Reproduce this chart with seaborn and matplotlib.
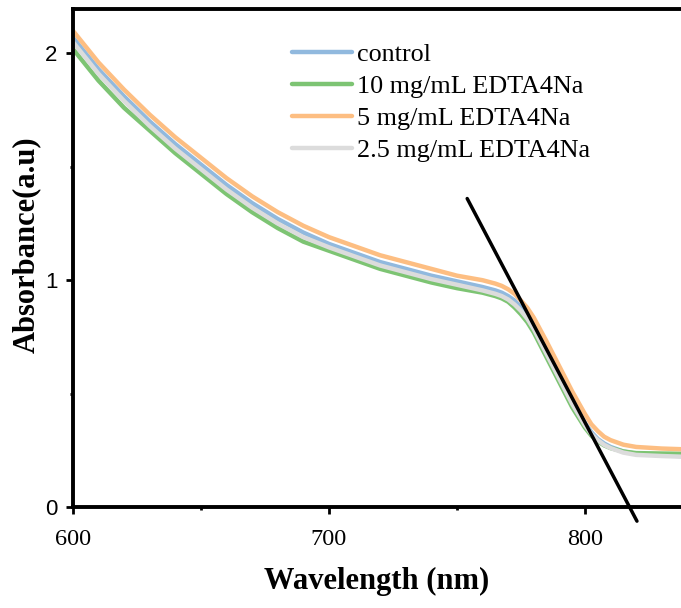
import numpy as np
import pandas as pd
import matplotlib
matplotlib.use("Agg")
import matplotlib.pyplot as plt
import seaborn as sns
from matplotlib.ticker import MultipleLocator
from matplotlib.lines import Line2D

# ---- data ----
wavelength = [600, 610, 620, 630, 640, 650, 660, 670, 680, 690, 700, 710, 720, 730, 740,
              750, 760, 765, 767.5, 770, 772.5, 775, 777.5, 780, 785, 790, 795, 800, 802.5,
              805, 807.5, 810, 815, 820, 830, 838]
control = [2.07, 1.93, 1.81, 1.70, 1.60, 1.51, 1.42, 1.34, 1.27, 1.21, 1.16, 1.12, 1.08, 1.05, 1.02,
           0.995, 0.97, 0.955, 0.945, 0.93, 0.91, 0.88, 0.845, 0.80, 0.69, 0.58, 0.47, 0.37, 0.33,
           0.30, 0.28, 0.265, 0.245, 0.235, 0.228, 0.225]
edta_10 = [2.02, 1.88, 1.76, 1.66, 1.56, 1.47, 1.38, 1.30, 1.23, 1.17, 1.13, 1.09, 1.05, 1.02, 0.99,
           0.965, 0.945, 0.93, 0.92, 0.905, 0.88, 0.85, 0.815, 0.77, 0.66, 0.55, 0.44, 0.35, 0.315,
           0.29, 0.272, 0.26, 0.245, 0.238, 0.236, 0.235]
edta_5 = [2.10, 1.96, 1.84, 1.73, 1.63, 1.54, 1.45, 1.37, 1.30, 1.24, 1.19, 1.15, 1.11, 1.08, 1.05,
          1.02, 1.00, 0.985, 0.975, 0.96, 0.94, 0.91, 0.878, 0.835, 0.73, 0.62, 0.51, 0.41, 0.365,
          0.335, 0.31, 0.295, 0.275, 0.265, 0.258, 0.255]
edta_2_5 = [2.05, 1.91, 1.79, 1.68, 1.58, 1.49, 1.40, 1.32, 1.25, 1.19, 1.145, 1.105, 1.065, 1.035, 1.005,
            0.98, 0.955, 0.94, 0.93, 0.915, 0.893, 0.865, 0.83, 0.785, 0.675, 0.565, 0.455, 0.36, 0.322,
            0.295, 0.274, 0.26, 0.24, 0.23, 0.225, 0.222]
series_names = ["control", "10 mg/mL EDTA4Na", "5 mg/mL EDTA4Na", "2.5 mg/mL EDTA4Na"]
series_colors = ["#91B9DE", "#7DC473", "#FDBE82", "#DCDCDC"]

tangent_x = [754.0, 820.3]
tangent_y = [1.36, -0.062]

x_ticks = [600, 700, 800]
y_ticks = [0, 1, 2]

# ---- build long table ----
frames = []
for name, vals in zip(series_names, [control, edta_10, edta_5, edta_2_5]):
    frames.append(pd.DataFrame({"Wavelength": wavelength, "Absorbance": vals, "Sample": name}))
df = pd.concat(frames, ignore_index=True)

sns.set_style("white")
plt.rcParams["font.family"] = ["Liberation Serif", "DejaVu Serif"]
plt.rcParams["text.color"] = "black"
plt.rcParams["axes.labelcolor"] = "black"
plt.rcParams["xtick.color"] = "black"
plt.rcParams["ytick.color"] = "black"

fig = plt.figure(figsize=(6.81, 6.08), dpi=100)
ax = fig.add_axes([0.107, 0.166, 0.893, 0.819])

sns.lineplot(data=df, x="Wavelength", y="Absorbance", hue="Sample", hue_order=series_names,
             palette=series_colors, sort=False, linewidth=3.2, ax=ax, legend=False)

ax.plot(tangent_x, tangent_y, color="black", linewidth=2.5, clip_on=False, zorder=5)

ax.set_xlim(600, 837.5)
ax.set_ylim(0, 2.195)

ax.set_xticks(x_ticks)
ax.set_xticklabels([str(t) for t in x_ticks], fontsize=17.5, family="Liberation Serif", color="black")
ax.set_yticks(y_ticks)
ax.set_yticklabels([str(t) for t in y_ticks], fontsize=16, family="Liberation Sans", color="black")
ax.xaxis.set_minor_locator(MultipleLocator(50))
ax.yaxis.set_minor_locator(MultipleLocator(0.5))
ax.tick_params(axis="both", which="major", direction="out", length=5, width=2, color="black",
               bottom=True, left=True)
ax.tick_params(axis="both", which="minor", direction="out", length=2.5, width=2, color="black",
               bottom=True, left=True)
ax.tick_params(axis="x", which="major", pad=11)
ax.tick_params(axis="y", which="major", pad=6)

for side in ["left", "bottom", "top"]:
    ax.spines[side].set_visible(True)
    ax.spines[side].set_linewidth(2.8)
    ax.spines[side].set_color("black")
ax.spines["right"].set_visible(False)

ax.set_xlabel("Wavelength (nm)", fontsize=22, fontweight="bold", labelpad=12, color="black")
ax.set_ylabel("Absorbance(a.u)", fontsize=22, fontweight="bold", color="black")
ax.yaxis.set_label_coords(-0.053, 0.526)

handles = [Line2D([0], [0], color=c, linewidth=3.2) for c in series_colors]
leg = ax.legend(handles, series_names, loc="upper left", bbox_to_anchor=(0.36, 0.932),
                frameon=False, fontsize=18.8, handlelength=2.3, handletextpad=0.19,
                labelspacing=0.33, borderpad=0, borderaxespad=0)
for t in leg.get_texts():
    t.set_color("black")

fig.savefig("out.png", dpi=100)
